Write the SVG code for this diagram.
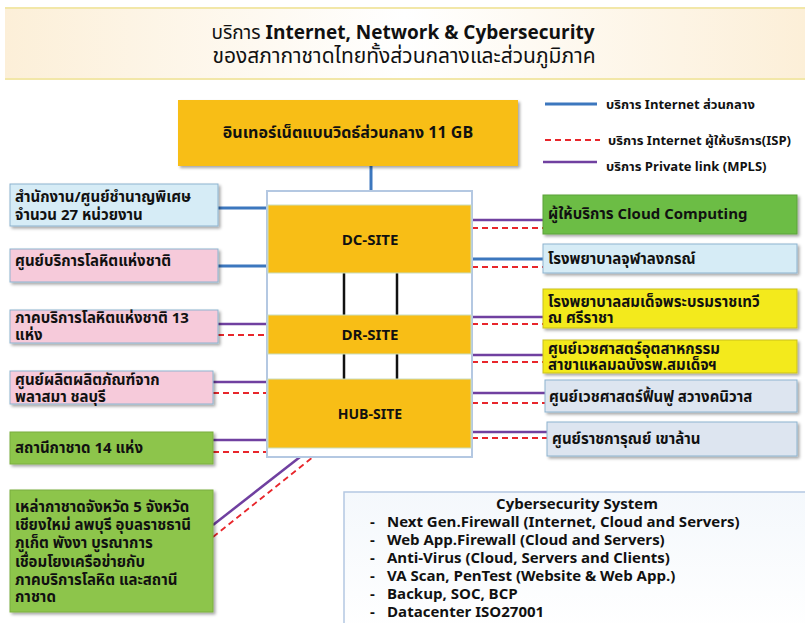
<svg xmlns="http://www.w3.org/2000/svg" width="805" height="623" viewBox="0 0 805 623">
<defs>
<linearGradient id="ban" x1="0" y1="0" x2="1" y2="0">
<stop offset="0" stop-color="#FCEFD8"/><stop offset="0.5" stop-color="#FFFFFF"/><stop offset="1" stop-color="#FCEFD8"/>
</linearGradient>
<linearGradient id="cyb" x1="0" y1="0" x2="0" y2="1">
<stop offset="0" stop-color="#F4F8FC"/><stop offset="1" stop-color="#FFFFFF"/>
</linearGradient>
<filter id="sh" x="-5%" y="-10%" width="112%" height="130%">
<feDropShadow dx="2" dy="2" stdDeviation="1.5" flood-color="#000" flood-opacity="0.35"/>
</filter>
</defs>
<style>
text{font-family:Tahoma,"Noto Sans Thai","DejaVu Sans",sans-serif;fill:#111}
.t{font-size:15px;font-weight:bold}
.c{text-anchor:middle}
.org{fill:#F8BE16;filter:url(#sh)}
.lb{fill:#D6ECF6;stroke:#8DB3CF;stroke-width:1;filter:url(#sh)}
.pk{fill:#F6CADA;stroke:#8DB3CF;stroke-width:1;filter:url(#sh)}
.gl{fill:#8DC54B;stroke:#7AAE3E;stroke-width:1;filter:url(#sh)}
.gr{fill:#6CBD45;stroke:#5CA23A;stroke-width:1;filter:url(#sh)}
.ye{fill:#F3EA1A;stroke:#C9C020;stroke-width:1;filter:url(#sh)}
.gb{fill:#DDE5F0;stroke:#8DB3CF;stroke-width:1;filter:url(#sh)}
.bl{stroke:#3C77BE;stroke-width:3;fill:none}
.pu{stroke:#7040A0;stroke-width:2.5;fill:none}
.rd{stroke:#E8262B;stroke-width:1.8;stroke-dasharray:6,4;fill:none}
.bk{stroke:#111;stroke-width:2.5}
.cy{font-size:15px;font-weight:bold}
.lg{font-size:13px;font-weight:bold}
</style>

<g id="title">
<rect x="5" y="8" width="800" height="71" fill="url(#ban)"/>
<line x1="5" y1="8" x2="805" y2="8" stroke="#F2E7A8" stroke-width="2"/>
<line x1="5" y1="79" x2="805" y2="79" stroke="#F2E7A8" stroke-width="2"/>
<text x="403" y="39" class="c" style="font-size:19px"><tspan>บริการ </tspan><tspan font-weight="bold">Internet, Network &amp; Cybersecurity</tspan></text>
<text x="404" y="63" class="c" style="font-size:21px">ของสภากาชาดไทยทั้งส่วนกลางและส่วนภูมิภาค</text>
</g>

<g id="legend">
<line x1="545" y1="104" x2="597" y2="104" class="bl"/>
<text x="606" y="109" class="lg">บริการ Internet ส่วนกลาง</text>
<line x1="545" y1="140" x2="600" y2="140" class="rd"/>
<text x="608" y="145" class="lg">บริการ Internet ผู้ให้บริการ(ISP)</text>
<line x1="543" y1="162" x2="597" y2="162" class="pu"/>
<text x="606" y="171" class="lg">บริการ Private link (MPLS)</text>
</g>

<g id="connectors">
<line x1="371" y1="166" x2="371" y2="191" class="bl"/>
<line x1="218" y1="208" x2="267" y2="208" class="bl"/>
<line x1="218" y1="266" x2="267" y2="266" class="bl"/>
<line x1="218" y1="324" x2="267" y2="324" class="pu"/>
<line x1="218" y1="335" x2="267" y2="335" class="rd"/>
<line x1="213" y1="382" x2="267" y2="382" class="pu"/>
<line x1="213" y1="393" x2="267" y2="393" class="rd"/>
<line x1="213" y1="440" x2="267" y2="440" class="pu"/>
<line x1="213" y1="452" x2="267" y2="452" class="rd"/>
<line x1="213" y1="525" x2="300" y2="457" class="pu"/>
<line x1="213" y1="537" x2="313" y2="457" class="rd"/>
<line x1="472" y1="220" x2="543" y2="220" class="pu"/>
<line x1="472" y1="228" x2="543" y2="228" class="rd"/>
<line x1="472" y1="259" x2="543" y2="259" class="bl"/>
<line x1="472" y1="267" x2="543" y2="267" class="rd"/>
<line x1="472" y1="317" x2="543" y2="317" class="pu"/>
<line x1="472" y1="324" x2="543" y2="324" class="rd"/>
<line x1="472" y1="355" x2="543" y2="355" class="pu"/>
<line x1="472" y1="362" x2="543" y2="362" class="rd"/>
<line x1="472" y1="393" x2="545" y2="393" class="pu"/>
<line x1="472" y1="403" x2="545" y2="403" class="rd"/>
<line x1="472" y1="432" x2="547" y2="432" class="pu"/>
<line x1="472" y1="438" x2="547" y2="438" class="rd"/>
</g>

<g id="internet">
<rect x="178" y="100" width="340" height="66" class="org"/>
<text x="348" y="138" class="t c" style="font-size:16px">อินเทอร์เน็ตแบนวิดธ์ส่วนกลาง  11 GB</text>
</g>

<g id="sites">
<rect x="267" y="191" width="205" height="266" fill="#FFFFFF" stroke="#B4C8E2" stroke-width="2"/>
<line x1="344" y1="273" x2="344" y2="315" class="bk"/>
<line x1="397" y1="273" x2="397" y2="315" class="bk"/>
<line x1="344" y1="354" x2="344" y2="379" class="bk"/>
<line x1="397" y1="354" x2="397" y2="379" class="bk"/>
</g>
<g id="dc-site">
<rect x="268" y="205" width="203" height="68" fill="#F8BE16" stroke="#C9DDC0" stroke-width="1"/>
<text x="370" y="245" class="t c">DC-SITE</text>
</g>
<g id="dr-site">
<rect x="268" y="315" width="203" height="39" fill="#F8BE16" stroke="#C9DDC0" stroke-width="1"/>
<text x="370" y="340" class="t c">DR-SITE</text>
</g>
<g id="hub-site">
<rect x="268" y="379" width="203" height="69" fill="#F8BE16" stroke="#C9DDC0" stroke-width="1"/>
<text x="370" y="419" class="t c" style="font-size:14px">HUB-SITE</text>
</g>

<g id="l1"><rect x="10" y="184" width="208" height="42" class="lb"/>
<text x="15" y="202" class="t">สำนักงาน/ศูนย์ชำนาญพิเศษ</text><text x="15" y="220" class="t">จำนวน 27 หน่วยงาน</text></g>
<g id="l2"><rect x="10" y="249" width="208" height="33" class="pk"/>
<text x="15" y="266" class="t">ศูนย์บริการโลหิตแห่งชาติ</text></g>
<g id="l3"><rect x="10" y="310" width="208" height="33" class="pk"/>
<text x="15" y="323" class="t">ภาคบริการโลหิตแห่งชาติ 13</text><text x="15" y="340" class="t">แห่ง</text></g>
<g id="l4"><rect x="10" y="371" width="203" height="33" class="pk"/>
<text x="15" y="385" class="t">ศูนย์ผลิตผลิตภัณฑ์จาก</text><text x="15" y="402" class="t">พลาสมา ชลบุรี</text></g>
<g id="l5"><rect x="10" y="432" width="203" height="32" class="gl"/>
<text x="15" y="453" class="t">สถานีกาชาด 14 แห่ง</text></g>
<g id="l6"><rect x="10" y="490" width="203" height="122" class="gl"/>
<text x="15" y="512" class="t">เหล่ากาชาดจังหวัด 5 จังหวัด</text>
<text x="15" y="530" class="t">เชียงใหม่ ลพบุรี อุบลราชธานี</text>
<text x="15" y="548" class="t">ภูเก็ต พังงา บูรณาการ</text>
<text x="15" y="567" class="t">เชื่อมโยงเครือข่ายกับ</text>
<text x="15" y="585" class="t">ภาคบริการโลหิต และสถานี</text>
<text x="15" y="602" class="t">กาชาด</text></g>

<g id="r1"><rect x="543" y="195" width="254" height="39" class="gr"/>
<text x="548" y="219" class="t">ผู้ให้บริการ Cloud Computing</text></g>
<g id="r2"><rect x="543" y="244" width="254" height="29" class="lb"/>
<text x="548" y="264" class="t">โรงพยาบาลจุฬาลงกรณ์</text></g>
<g id="r3"><rect x="543" y="289" width="254" height="39" class="ye"/>
<text x="548" y="307" class="t">โรงพยาบาลสมเด็จพระบรมราชเทวี</text><text x="548" y="323" class="t">ณ ศรีราชา</text></g>
<g id="r4"><rect x="543" y="340" width="254" height="33" class="ye"/>
<text x="548" y="354" class="t">ศูนย์เวชศาสตร์อุตสาหกรรม</text><text x="548" y="370" class="t">สาขาแหลมฉบังรพ.สมเด็จฯ</text></g>
<g id="r5"><rect x="545" y="380" width="252" height="32" class="gb"/>
<text x="549" y="402" class="t">ศูนย์เวชศาสตร์ฟื้นฟู สวางคนิวาส</text></g>
<g id="r6"><rect x="547" y="422" width="250" height="34" class="gb"/>
<text x="552" y="444" class="t">ศูนย์ราชการุณย์ เขาล้าน</text></g>

<g id="cyber">
<rect x="344" y="492" width="470" height="140" fill="url(#cyb)" stroke="#B4C8E2" stroke-width="1.5"/>
<text x="577" y="509" class="cy c">Cybersecurity System</text>
<text x="370" y="527" class="cy">-</text><text x="387" y="527" class="cy">Next Gen.Firewall (Internet, Cloud and Servers)</text>
<text x="370" y="545" class="cy">-</text><text x="387" y="545" class="cy">Web App.Firewall (Cloud and Servers)</text>
<text x="370" y="563" class="cy">-</text><text x="387" y="563" class="cy">Anti-Virus (Cloud, Servers and Clients)</text>
<text x="370" y="581" class="cy">-</text><text x="387" y="581" class="cy">VA Scan, PenTest (Website &amp; Web App.)</text>
<text x="370" y="599" class="cy">-</text><text x="387" y="599" class="cy">Backup, SOC, BCP</text>
<text x="370" y="617" class="cy">-</text><text x="387" y="617" class="cy">Datacenter ISO27001</text>
</g>
</svg>
